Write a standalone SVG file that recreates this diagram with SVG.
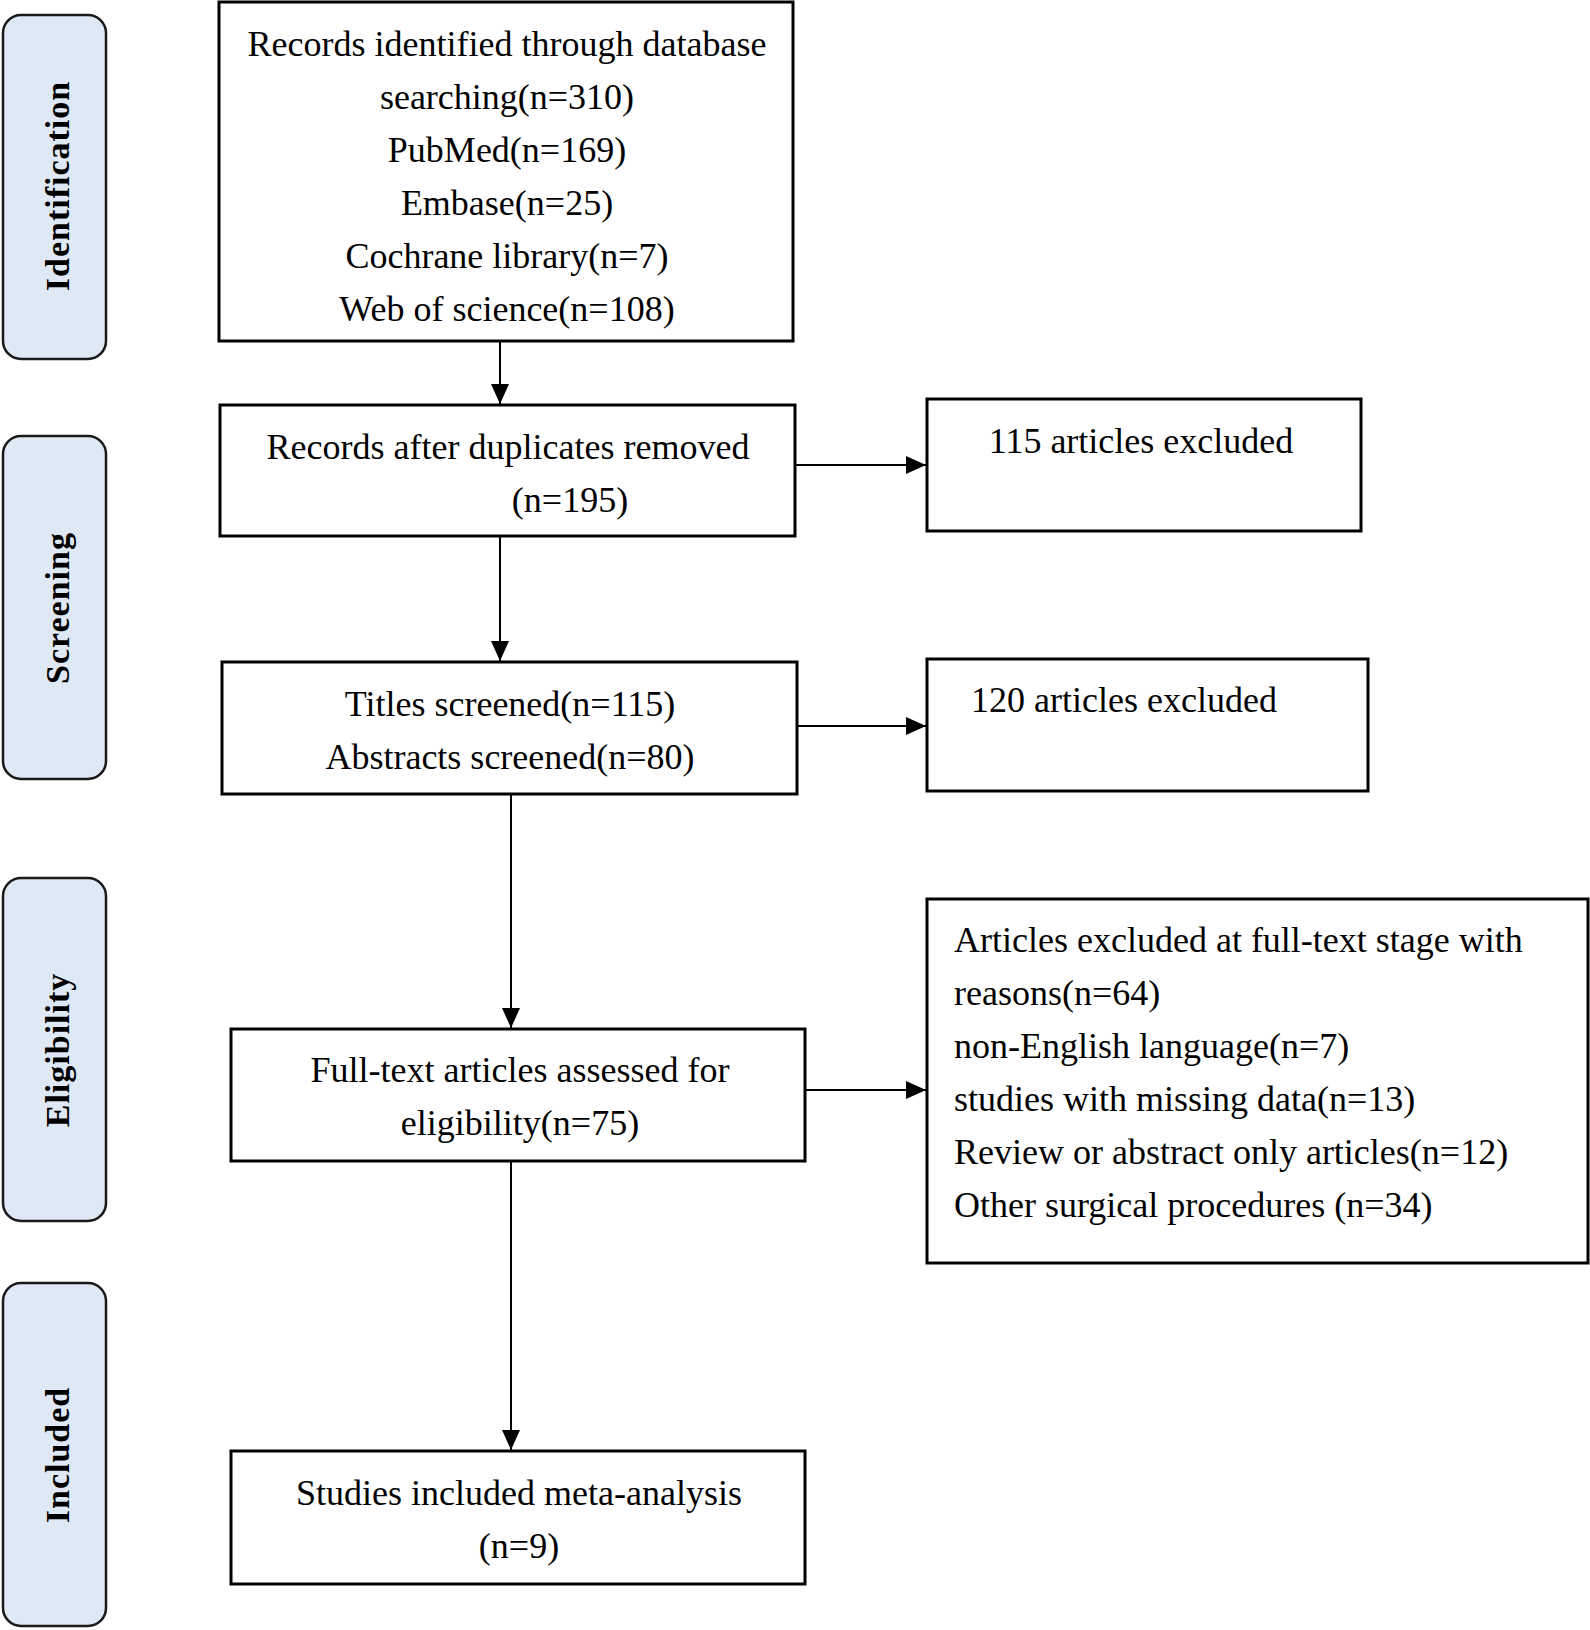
<svg xmlns="http://www.w3.org/2000/svg" width="1590" height="1630" viewBox="0 0 1590 1630">
<defs>
<marker id="ah" markerWidth="20" markerHeight="20" refX="20" refY="10" orient="auto" markerUnits="userSpaceOnUse" viewBox="0 0 20 20">
<path d="M0,1 L20,10 L0,19 Z" fill="#000"/>
</marker>
<style>
.box{fill:#fff;stroke:#000;stroke-width:3}
.side{fill:#dfe9f5;stroke:#1a1a1a;stroke-width:2.5}
.t{font-family:"Liberation Serif","Times New Roman",serif;font-size:36px;fill:#000}
.s{font-family:"Liberation Serif","Times New Roman",serif;font-size:34px;font-weight:bold;fill:#000;text-anchor:middle;letter-spacing:1px}
.c{text-anchor:middle}
.con{stroke:#000;stroke-width:2;fill:none}
</style>
</defs>
<rect width="1590" height="1630" fill="#fff"/>

<g id="stage-identification"><rect class="side" x="3" y="15" width="103" height="344" rx="18"/><text class="s" transform="translate(57,186) rotate(-90)" dy="12">Identification</text></g>
<g id="stage-screening"><rect class="side" x="3" y="436" width="103" height="343" rx="18"/><text class="s" transform="translate(57,608) rotate(-90)" dy="12">Screening</text></g>
<g id="stage-eligibility"><rect class="side" x="3" y="878" width="103" height="343" rx="18"/><text class="s" transform="translate(57,1050) rotate(-90)" dy="12">Eligibility</text></g>
<g id="stage-included"><rect class="side" x="3" y="1283" width="103" height="343" rx="18"/><text class="s" transform="translate(57,1455) rotate(-90)" dy="12">Included</text></g>

<g id="records-identified"><rect class="box" x="219" y="2" width="574" height="339"/>
<text class="t c" x="507" y="56">Records identified through database</text>
<text class="t c" x="507" y="109">searching(n=310)</text>
<text class="t c" x="507" y="162">PubMed(n=169)</text>
<text class="t c" x="507" y="215">Embase(n=25)</text>
<text class="t c" x="507" y="268">Cochrane library(n=7)</text>
<text class="t c" x="507" y="321">Web of science(n=108)</text></g>

<g id="after-duplicates"><rect class="box" x="220" y="405" width="575" height="131"/>
<text class="t c" x="508" y="459">Records after duplicates removed</text>
<text class="t c" x="570" y="512">(n=195)</text></g>

<g id="excluded-115"><rect class="box" x="927" y="399" width="434" height="132"/>
<text class="t c" x="1141" y="453">115 articles excluded</text></g>

<g id="titles-screened"><rect class="box" x="222" y="662" width="575" height="132"/>
<text class="t c" x="510" y="716">Titles screened(n=115)</text>
<text class="t c" x="510" y="769">Abstracts screened(n=80)</text></g>

<g id="excluded-120"><rect class="box" x="927" y="659" width="441" height="132"/>
<text class="t c" x="1124" y="712">120 articles excluded</text></g>

<g id="full-text"><rect class="box" x="231" y="1029" width="574" height="132"/>
<text class="t c" x="520" y="1082">Full-text articles assessed for</text>
<text class="t c" x="520" y="1135">eligibility(n=75)</text></g>

<g id="excluded-full-text"><rect class="box" x="927" y="899" width="661" height="364"/>
<text class="t" x="954" y="952">Articles excluded at full-text stage with</text>
<text class="t" x="954" y="1005">reasons(n=64)</text>
<text class="t" x="954" y="1058">non-English language(n=7)</text>
<text class="t" x="954" y="1111">studies with missing data(n=13)</text>
<text class="t" x="954" y="1164">Review or abstract only articles(n=12)</text>
<text class="t" x="954" y="1217">Other surgical procedures (n=34)</text></g>

<g id="included"><rect class="box" x="231" y="1451" width="574" height="133"/>
<text class="t c" x="519" y="1505">Studies included meta-analysis</text>
<text class="t c" x="519" y="1558">(n=9)</text></g>

<g id="connectors">
<line class="con" x1="500" y1="342" x2="500" y2="404" marker-end="url(#ah)"/>
<line class="con" x1="795" y1="465" x2="926" y2="465" marker-end="url(#ah)"/>
<line class="con" x1="500" y1="537" x2="500" y2="661" marker-end="url(#ah)"/>
<line class="con" x1="797" y1="726" x2="926" y2="726" marker-end="url(#ah)"/>
<line class="con" x1="511" y1="795" x2="511" y2="1028" marker-end="url(#ah)"/>
<line class="con" x1="805" y1="1090" x2="926" y2="1090" marker-end="url(#ah)"/>
<line class="con" x1="511" y1="1162" x2="511" y2="1450" marker-end="url(#ah)"/>
</g>
</svg>
